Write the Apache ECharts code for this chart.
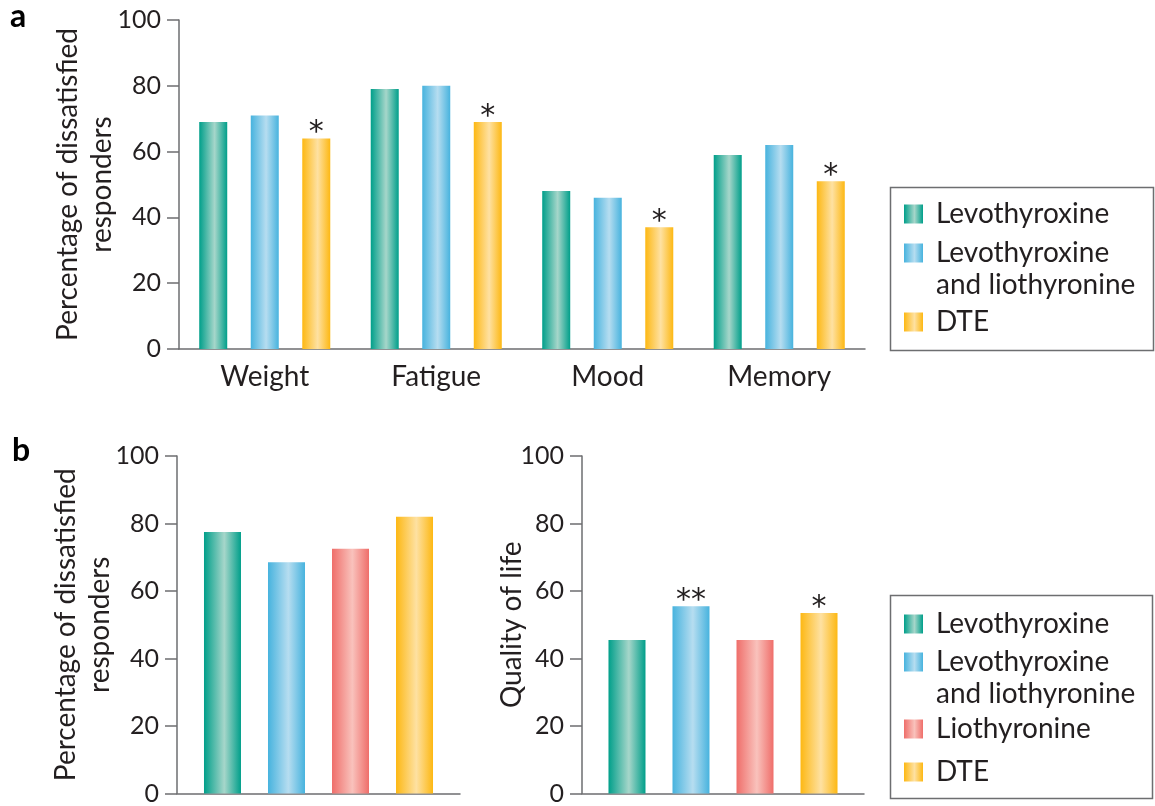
<!DOCTYPE html>
<html>
<head>
<meta charset="utf-8">
<script src="https://cdn.jsdelivr.net/npm/echarts@6/dist/echarts.min.js"></script>
<style>
html,body{margin:0;padding:0;background:#fff;}
#chart{width:1155px;height:806px;}
</style>
</head>
<body>
<div id="chart"></div>
<script>
// ---------- data ----------
const categoriesA = ['Weight', 'Fatigue', 'Mood', 'Memory'];
const seriesNamesA = ['Levothyroxine', 'Levothyroxine\nand liothyronine', 'DTE'];
const levothyroxineA = [69, 79, 48, 59];
const comboA = [71, 80, 46, 62];
const dteA = [64, 69, 37, 51];
const sigDteA = ['*', '*', '*', '*'];

const seriesNamesB = ['Levothyroxine', 'Levothyroxine\nand liothyronine', 'Liothyronine', 'DTE'];
const dissatisfiedB = [77.5, 68.5, 72.5, 82];
const qualityOfLifeB = [45.5, 55.5, 45.5, 53.5];
const sigQolB = ['', '**', '', '*'];

const yTicks = [0, 20, 40, 60, 80, 100];

// ---------- styles ----------
const FONT = 'Lato';
const TXT = '#231f20';
const AXIS = '#6d6e70';
const WORD_SIZE = 28;
const TICK_SIZE = 25;
function grad(dark, light) {
  return {type: 'linear', x: 0, y: 0, x2: 1, y2: 0,
    colorStops: [{offset: 0, color: dark}, {offset: 0.55, color: light}, {offset: 1, color: dark}]};
}
const colors = {
  'Levothyroxine': grad('#009f8a', '#a6d6ca'),
  'Levothyroxine\nand liothyronine': grad('#47b3de', '#b6ddf0'),
  'Liothyronine': grad('#ef6e6a', '#f9c2bc'),
  'DTE': grad('#fdb813', '#fee1a2')
};
const starLabel = {fontFamily: 'DejaVu Sans', fontSize: 30, color: TXT, offset: [0, 10]};

function yAxis(gridIndex, name, gap) {
  return {
    type: 'value', gridIndex, min: yTicks[0], max: yTicks[yTicks.length - 1], interval: 20,
    splitLine: {show: false},
    axisLine: {show: true, lineStyle: {color: AXIS, width: 1.5}},
    axisTick: {show: true, length: 12, lineStyle: {color: AXIS, width: 1.5}},
    axisLabel: {fontFamily: FONT, fontSize: TICK_SIZE, color: TXT, margin: 18},
    name, nameLocation: 'middle', nameRotate: 90, nameGap: gap, nameMoveOverlap: false,
    nameTextStyle: {fontFamily: FONT, fontSize: WORD_SIZE, color: TXT, lineHeight: 34}
  };
}

const series = [];
// panel a
[levothyroxineA, comboA, dteA].forEach((vals, i) => {
  const name = seriesNamesA[i];
  series.push({
    type: 'bar', name, xAxisIndex: 0, yAxisIndex: 0, data: vals,
    barWidth: 28, barGap: '84%',
    itemStyle: {color: colors[name]},
    label: name === 'DTE' ? Object.assign({show: true, position: 'top', distance: 0,
      formatter: p => sigDteA[p.dataIndex]}, starLabel) : {show: false}
  });
});
// panel b left
seriesNamesB.forEach((name, i) => {
  series.push({
    type: 'bar', name, xAxisIndex: 1, yAxisIndex: 1, data: [dissatisfiedB[i]],
    barWidth: 37, barGap: '73%',
    itemStyle: {color: colors[name]}
  });
});
// panel b right
seriesNamesB.forEach((name, i) => {
  series.push({
    type: 'bar', name, xAxisIndex: 2, yAxisIndex: 2, data: [qualityOfLifeB[i]],
    barWidth: 37, barGap: '73%',
    itemStyle: {color: colors[name]},
    label: Object.assign({show: !!sigQolB[i], position: 'top', distance: 0,
      formatter: () => sigQolB[i]}, starLabel)
  });
});

function legendItem(name, left, top) {
  const twoLine = name.indexOf('\n') >= 0;
  return {
    show: true, left, top, padding: 0, orient: 'vertical',
    // two-line entry: a taller icon box whose square sits at the top, so it lines up with the first line
    data: [{name, icon: twoLine ? 'path://M0,0H19V19H0Z M0,51' : 'rect'}],
    itemWidth: 19, itemHeight: twoLine ? 51 : 19, selectedMode: false,
    textStyle: {fontFamily: FONT, fontSize: WORD_SIZE, color: TXT, lineHeight: 32, padding: [0, 0, 0, 8]}
  };
}
const legends = [
  legendItem(seriesNamesA[0], 904, 198),
  legendItem(seriesNamesA[1], 904, 237),
  legendItem(seriesNamesA[2], 904, 306),
  legendItem(seriesNamesB[0], 904, 608),
  legendItem(seriesNamesB[1], 904, 646),
  legendItem(seriesNamesB[2], 904, 713),
  legendItem(seriesNamesB[3], 904, 756)
];

const option = {
  backgroundColor: '#fff',
  animation: false,
  title: [
    {text: 'a', left: 5, top: -4, textStyle: {fontFamily: FONT, fontSize: 32, fontWeight: 'bold', color: '#000'}},
    {text: 'b', left: 7, top: 430, textStyle: {fontFamily: FONT, fontSize: 32, fontWeight: 'bold', color: '#000'}}
  ],
  grid: [
    {left: 179, top: 20, width: 686, height: 329},
    {left: 177, top: 456, width: 283, height: 340},
    {left: 582, top: 456, width: 282, height: 340}
  ],
  xAxis: [
    {type: 'category', gridIndex: 0, data: categoriesA,
      axisLine: {lineStyle: {color: AXIS, width: 1.5}},
      axisTick: {alignWithLabel: true, length: 10, lineStyle: {color: AXIS, width: 1.5}},
      axisLabel: {fontFamily: FONT, fontSize: WORD_SIZE, color: TXT, margin: 14}},
    {type: 'category', gridIndex: 1, data: [''],
      axisLine: {lineStyle: {color: AXIS, width: 1.5}}, axisTick: {show: false}, axisLabel: {show: false}},
    {type: 'category', gridIndex: 2, data: [''],
      axisLine: {lineStyle: {color: AXIS, width: 1.5}}, axisTick: {show: false}, axisLabel: {show: false}}
  ],
  yAxis: [
    yAxis(0, 'Percentage of dissatisfied\nresponders', 60),
    yAxis(1, 'Percentage of dissatisfied\nresponders', 60),
    yAxis(2, 'Quality of life', 53)
  ],
  legend: legends,
  graphic: [
    {type: 'rect', silent: true, shape: {x: 890.5, y: 187.5, width: 263, height: 163}, style: {fill: 'none', stroke: AXIS, lineWidth: 1.5}},
    {type: 'rect', silent: true, shape: {x: 890.5, y: 595.5, width: 262, height: 203}, style: {fill: 'none', stroke: AXIS, lineWidth: 1.5}}
  ],
  series
};

const chart = echarts.init(document.getElementById('chart'), null, {renderer: 'canvas'});
chart.setOption(option);
</script>
</body>
</html>
